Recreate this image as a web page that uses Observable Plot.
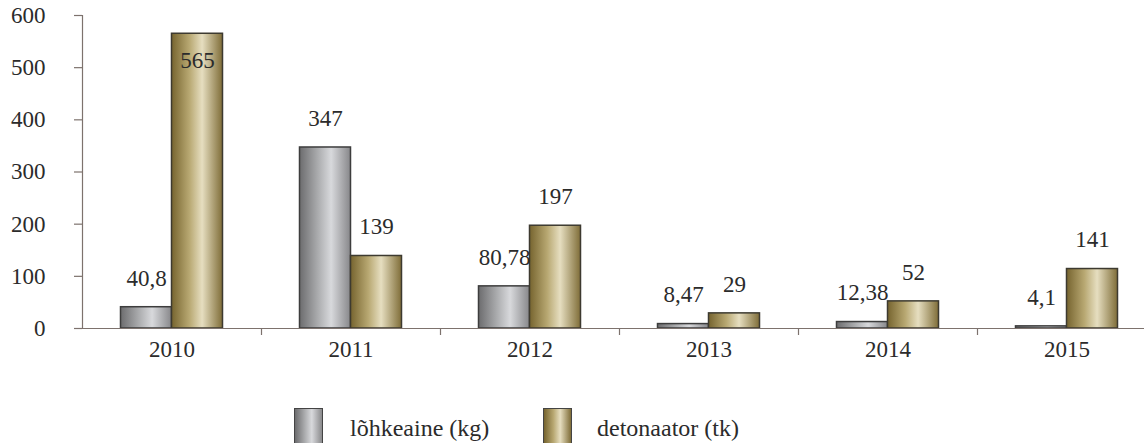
<!DOCTYPE html>
<html>
<head>
<meta charset="utf-8">
<script src="https://cdn.jsdelivr.net/npm/d3@7"></script>
<script src="https://cdn.jsdelivr.net/npm/@observablehq/plot@0.6"></script>
<style>
  html, body { margin: 0; padding: 0; background: #fff; }
  #wrap { width: 1144px; height: 443px; overflow: hidden; position: relative; font-family: "Liberation Serif", "DejaVu Serif", serif; color: #2b2b2b; }
  #legend { position: relative; height: 58px; }
  .sw { position: absolute; top: 23px; width: 29px; height: 45px; border: 1px solid #444; box-sizing: border-box; }
  .sw.gray { left: 294px; background: linear-gradient(to right, #6c6c6e 0%, #a9aaac 35%, #d8d9dc 62%, #8a8a8c 100%); }
  .sw.gold { left: 543px; background: linear-gradient(to right, #76642f 0%, #b8a872 35%, #e6dec0 60%, #7f6d38 100%); }
  .lt { position: absolute; top: 31px; line-height: 24px; font-size: 24px; white-space: nowrap; }
</style>
</head>
<body>
<div id="wrap">
  <div id="chart"></div>
  <div id="legend"></div>
</div>
<script>
// ---- data ----
const years = ["2010", "2011", "2012", "2013", "2014", "2015"];
const seriesNames = ["lõhkeaine (kg)", "detonaator (tk)"];
const lohkeaine = [40.8, 347, 80.78, 8.47, 12.38, 4.1];
const detonaator = [565, 139, 197, 29, 52, 114];
const lohkeaineLabels = ["40,8", "347", "80,78", "8,47", "12,38", "4,1"];
const detonaatorLabels = ["565", "139", "197", "29", "52", "141"];
const yTicks = [0, 100, 200, 300, 400, 500, 600];

// ---- table ----
const rows = [];
years.forEach((y, i) => {
  rows.push({year: y, series: seriesNames[0], value: lohkeaine[i], label: lohkeaineLabels[i]});
  rows.push({year: y, series: seriesNames[1], value: detonaator[i], label: detonaatorLabels[i]});
});

// ---- layout ----
const W = 1160, H = 385, ML = 82, MR = 4, MT = 15, MB = 57;
const band = (W - ML - MR) / years.length;
const barW = 51;
const axisColor = "#7d726d";
const textColor = "#2b2b2b";
const fontSize = 23;

const defs = () => {
  const g = d3.create("svg:defs");
  const mk = (id, stops) => {
    const lg = g.append("linearGradient").attr("id", id).attr("x1", "0%").attr("x2", "100%").attr("y1", "0%").attr("y2", "0%");
    stops.forEach(([o, c]) => lg.append("stop").attr("offset", o).attr("stop-color", c));
  };
  mk("gGray", [["0%", "#6c6c6e"], ["35%", "#a9aaac"], ["62%", "#d8d9dc"], ["100%", "#87878a"]]);
  mk("gGold", [["0%", "#76642f"], ["35%", "#b8a872"], ["60%", "#e6dec0"], ["100%", "#7f6d38"]]);
  return g.node();
};

const grayRows = rows.filter(d => d.series === seriesNames[0]);
const goldRows = rows.filter(d => d.series === seriesNames[1]);
const inside = d => d.value > 500;

const chart = Plot.plot({
  width: W, height: H,
  marginLeft: ML, marginRight: MR, marginTop: MT, marginBottom: MB,
  style: {maxWidth: "none", fontFamily: "'Liberation Serif', 'DejaVu Serif', serif", color: textColor, background: "#fff", overflow: "visible"},
  x: {type: "band", domain: years, padding: 0},
  y: {domain: [0, 600]},
  marks: [
    defs,
    Plot.barY(grayRows, {x: "year", y: "value", fill: "url(#gGray)", stroke: "#3d3d3d", strokeWidth: 1.5,
      insetLeft: band / 2 - barW, insetRight: band / 2}),
    Plot.barY(goldRows, {x: "year", y: "value", fill: "url(#gGold)", stroke: "#3d3a30", strokeWidth: 1.5,
      insetLeft: band / 2, insetRight: band / 2 - barW}),
    Plot.ruleY([0], {stroke: axisColor, strokeWidth: 1.2}),
    Plot.ruleX([years[0]], {x: d => d, y1: 0, y2: 600, dx: -band / 2, stroke: axisColor, strokeWidth: 1.2}),
    Plot.ruleX(years.slice(1), {x: d => d, y1: 0, y2: 0, dx: -band / 2, insetBottom: -7, stroke: axisColor, strokeWidth: 1.2}),
    Plot.axisY({ticks: yTicks, tickSize: 8, tickPadding: 29, fontSize, stroke: axisColor, strokeWidth: 1.2, fill: textColor, label: null}),
    Plot.axisX({tickSize: 0, tickPadding: 12, fontSize, fill: textColor, label: null}),
    Plot.text(grayRows, {x: "year", y: "value", text: "label", dx: -barW / 2, dy: -29, fontSize, fill: textColor}),
    Plot.text(goldRows.filter(d => !inside(d)), {x: "year", y: "value", text: "label", dx: barW / 2, dy: -29, fontSize, fill: textColor}),
    Plot.text(goldRows.filter(inside), {x: "year", y: "value", text: "label", dx: barW / 2, dy: 27, fontSize, fill: textColor})
  ]
});
document.getElementById("chart").appendChild(chart);

// ---- legend ----
const legend = document.getElementById("legend");
const items = [
  {cls: "gray", name: seriesNames[0], textLeft: 350},
  {cls: "gold", name: seriesNames[1], textLeft: 597}
];
items.forEach(it => {
  const sw = document.createElement("div");
  sw.className = "sw " + it.cls;
  legend.appendChild(sw);
  const t = document.createElement("div");
  t.className = "lt";
  t.style.left = it.textLeft + "px";
  t.textContent = it.name;
  legend.appendChild(t);
});
</script>
</body>
</html>
